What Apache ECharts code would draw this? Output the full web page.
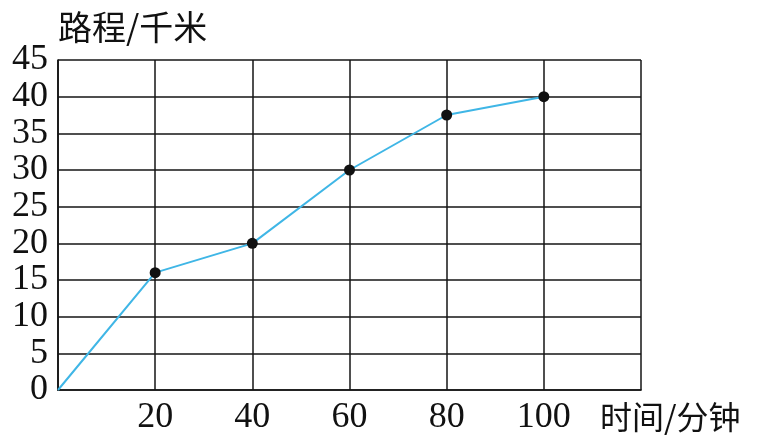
<!DOCTYPE html>
<html>
<head>
<meta charset="utf-8">
<script src="https://cdn.jsdelivr.net/npm/echarts@6/dist/echarts.min.js"></script>
<style>html,body{margin:0;padding:0;background:#fff;}#c{width:763px;height:439px;}</style>
</head>
<body>
<div id="c"></div>
<script>
const times = [0, 20, 40, 60, 80, 100];
const distances = [0, 16, 20, 30, 37.5, 40];
const xTickLabels = ['20', '40', '60', '80', '100'];
const yTickLabels = ['0', '5', '10', '15', '20', '25', '30', '35', '40', '45'];
const xName = '时间/分钟';
const yName = '路程/千米';

const chart = echarts.init(document.getElementById('c'));
const gridColor = '#151515';
const serif = '"Liberation Serif", "DejaVu Serif", serif';
const cjk = '"Noto Sans CJK SC", sans-serif';

chart.setOption({
  animation: false,
  backgroundColor: '#fff',
  grid: { left: 58, right: 122, top: 60, bottom: 49, containLabel: false },
  xAxis: {
    type: 'value', min: 0, max: 120, interval: 20,
    name: xName, nameLocation: 'end', nameGap: -41,
    nameTextStyle: { fontFamily: cjk, fontSize: 32, color: '#111', verticalAlign: 'top', padding: [11, 0, 0, 0] },
    axisLine: { show: true, lineStyle: { color: gridColor, width: 1.7 } },
    axisTick: { show: false },
    splitLine: { show: true, lineStyle: { color: gridColor, width: 1.5 } },
    axisLabel: {
      fontFamily: serif, fontSize: 36, color: '#111', margin: 10,
      formatter: function (v) { const s = String(v); return xTickLabels.indexOf(s) >= 0 ? s : ''; }
    }
  },
  yAxis: {
    type: 'value', min: 0, max: 45, interval: 5,
    name: yName, nameLocation: 'end', nameGap: 16,
    nameTextStyle: { fontFamily: cjk, fontSize: 34, color: '#111', align: 'left' },
    axisLine: { show: true, lineStyle: { color: gridColor, width: 1.7 } },
    axisTick: { show: false },
    splitLine: { show: true, lineStyle: { color: gridColor, width: 1.5 } },
    axisLabel: {
      fontFamily: serif, fontSize: 36, color: '#111', margin: 10,
      formatter: function (v) { const s = String(v); return yTickLabels.indexOf(s) >= 0 ? s : ''; }
    }
  },
  series: [{
    type: 'line',
    data: times.map((t, i) => ({
      value: [t, distances[i]],
      symbol: i === 0 ? 'none' : 'circle'
    })),
    symbolSize: 11,
    lineStyle: { color: '#3fb6e6', width: 2 },
    itemStyle: { color: '#111' },
    z: 5
  }]
});
</script>
</body>
</html>
